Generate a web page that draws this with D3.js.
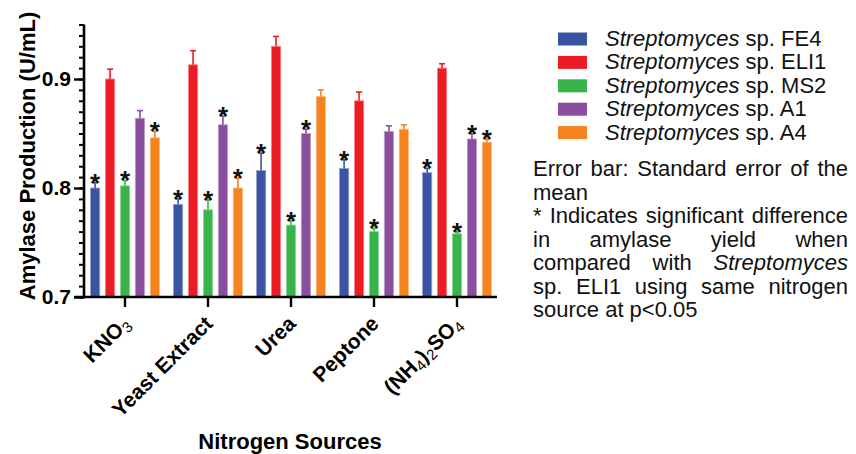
<!DOCTYPE html>
<html>
<head>
<meta charset="utf-8">
<script src="https://cdn.jsdelivr.net/npm/d3@7"></script>
<style>
  body { margin: 0; background: #fff; }
  svg { font-family: 'Liberation Sans', Arial, sans-serif; }
</style>
</head>
<body>
<div id="chart"></div>
<script>
const sources = ['KNO3', 'Yeast Extract', 'Urea', 'Peptone', '(NH4)2SO4'];
// label pieces: [text, isSubscript]
const sourceLabels = [
    [['KNO', 0], ['3', 1]],
    [['Yeast Extract', 0]],
    [['Urea', 0]],
    [['Peptone', 0]],
    [['(NH', 0], ['4', 1], [')', 0], ['2', 1], ['SO', 0], ['4', 1]]
];
const strains = ['FE4', 'ELI1', 'MS2', 'A1', 'A4'];
const strainColors = ['#3a54a4', '#ec1c24', '#38b449', '#894e9d', '#f5841f'];

const fe4Values = [0.800, 0.785, 0.816, 0.818, 0.814];
const eli1Values = [0.900, 0.913, 0.930, 0.880, 0.910];
const ms2Values = [0.802, 0.780, 0.766, 0.760, 0.758];
const a1Values = [0.864, 0.858, 0.850, 0.852, 0.845];
const a4Values = [0.846, 0.800, 0.884, 0.854, 0.842];

const fe4Err = [0.005, 0.005, 0.016, 0.008, 0.004];
const eli1Err = [0.009, 0.013, 0.009, 0.008, 0.004];
const ms2Err = [0.005, 0.009, 0.004, 0.003, 0.002];
const a1Err = [0.007, 0.008, 0.004, 0.005, 0.005];
const a4Err = [0.006, 0.009, 0.006, 0.004, 0.003];

// 1 = marked with * (significant vs ELI1)
const fe4Sig = [1, 1, 1, 1, 1];
const eli1Sig = [0, 0, 0, 0, 0];
const ms2Sig = [1, 1, 1, 1, 1];
const a1Sig = [0, 1, 1, 0, 1];
const a4Sig = [1, 1, 0, 0, 1];

const yMajorTicks = [0.7, 0.8, 0.9];

const allValues = [fe4Values, eli1Values, ms2Values, a1Values, a4Values];
const allErr = [fe4Err, eli1Err, ms2Err, a1Err, a4Err];
const allSig = [fe4Sig, eli1Sig, ms2Sig, a1Sig, a4Sig];

const data = [];
sources.forEach((src, i) => {
    strains.forEach((st, j) => {
        data.push({ source: src, strain: st, value: allValues[j][i], err: allErr[j][i], sig: allSig[j][i], color: strainColors[j] });
    });
});

const W = 856, H = 454;
const svg = d3.select('#chart').append('svg').attr('width', W).attr('height', H);

const y = d3.scaleLinear().domain([0.7, 0.95]).range([297, 24.5]);
const x0 = d3.scaleBand().domain(sources).range([83.5, 498.5]).paddingInner(0.1).paddingOuter(0.05);
const x1 = d3.scaleBand().domain(strains).range([0, x0.bandwidth()]).paddingInner(0.38).paddingOuter(0.19);

// bars
const bars = svg.append('g').selectAll('g.bar')
    .data(data)
    .enter()
    .append('g')
    .attr('transform', d => `translate(${x0(d.source) + x1(d.strain)},0)`);

bars.append('rect')
    .attr('x', 0)
    .attr('y', d => y(d.value))
    .attr('width', x1.bandwidth())
    .attr('height', d => y(0.7) - y(d.value))
    .attr('fill', d => d.color)
    .attr('stroke', d => d3.interpolateRgb(d.color, '#ffffff')(0.45))
    .attr('stroke-width', 0.8);

// error bars (upper only)
const bw = x1.bandwidth();
bars.append('line')
    .attr('x1', bw / 2).attr('x2', bw / 2)
    .attr('y1', d => y(d.value))
    .attr('y2', d => y(d.value + d.err))
    .attr('stroke', d => d.color)
    .attr('stroke-width', 1.6);
bars.append('line')
    .attr('x1', bw / 2 - 3).attr('x2', bw / 2 + 3)
    .attr('y1', d => y(d.value + d.err))
    .attr('y2', d => y(d.value + d.err))
    .attr('stroke', d => d.color)
    .attr('stroke-width', 1.6);

// significance stars
bars.filter(d => d.sig === 1)
    .append('text')
    .attr('x', bw / 2)
    .attr('y', d => y(d.value + d.err) + 9)
    .attr('text-anchor', 'middle')
    .attr('font-size', 26)
    .attr('font-weight', 'bold')
    .attr('fill', '#111')
    .text('*');

// y axis with minor ticks
const minorTicks = d3.range(0, 26).map(i => +(0.7 + i * 0.01).toFixed(2));
svg.append('g')
    .attr('transform', 'translate(84,0)')
    .call(d3.axisLeft(y).tickValues(minorTicks).tickSize(5).tickFormat(''))
    .call(g => g.select('.domain').remove())
    .call(g => g.selectAll('line').attr('stroke', '#000').attr('stroke-width', 2));

const yAxis = svg.append('g')
    .attr('transform', 'translate(84,0)')
    .call(d3.axisLeft(y).tickValues(yMajorTicks).tickSize(10).tickSizeOuter(0).tickFormat(d3.format('.1f')));
yAxis.select('.domain').attr('stroke', '#000').attr('stroke-width', 2.6).attr('d', `M0,${y(0.95)}V${y(0.7) + 1.3}`);
yAxis.selectAll('line').attr('stroke', '#000').attr('stroke-width', 2.4);
yAxis.selectAll('text')
    .attr('x', -13)
    .attr('font-size', 21)
    .attr('font-weight', 'bold')
    .attr('font-family', "'Liberation Sans', Arial, sans-serif")
    .attr('fill', '#000');

// x axis
const xAxis = svg.append('g')
    .attr('transform', `translate(0,${y(0.7)})`)
    .call(d3.axisBottom(x0).tickSize(10).tickSizeOuter(0).tickFormat(''));
xAxis.select('.domain').attr('stroke', '#000').attr('stroke-width', 2.6).attr('d', 'M74,0H497');
xAxis.selectAll('line').attr('stroke', '#000').attr('stroke-width', 2.4);
xAxis.selectAll('.tick').each(function (d, i) {
    const t = d3.select(this).append('text')
        .attr('transform', 'translate(6,28) rotate(-45)')
        .attr('text-anchor', 'end')
        .attr('fill', '#000')
        .attr('font-size', 21)
        .attr('font-weight', 'bold')
        .attr('font-family', "'Liberation Sans', Arial, sans-serif");
    let sub = false;
    sourceLabels[i].forEach(([txt, isSub]) => {
        const ts = t.append('tspan').text(txt);
        if (isSub && !sub) { ts.attr('dy', 4); sub = true; }
        else if (!isSub && sub) { ts.attr('dy', -4); sub = false; }
        if (isSub) ts.attr('font-size', 15).attr('font-weight', 'normal');
    });
});

// axis titles
svg.append('text')
    .attr('transform', 'translate(35,156) rotate(-90)')
    .attr('text-anchor', 'middle')
    .attr('font-size', 22)
    .attr('font-weight', 'bold')
    .text('Amylase Production (U/mL)');

svg.append('text')
    .attr('x', 290)
    .attr('y', 449)
    .attr('text-anchor', 'middle')
    .attr('font-size', 22)
    .attr('font-weight', 'bold')
    .text('Nitrogen Sources');

// legend
const legend = svg.append('g').selectAll('g')
    .data(strains)
    .enter()
    .append('g')
    .attr('transform', (d, i) => `translate(558,${46 + i * 23.4})`);
legend.append('rect')
    .attr('x', 0).attr('y', -13.5)
    .attr('width', 29).attr('height', 13)
    .attr('fill', (d, i) => strainColors[i]);
const lt = legend.append('text')
    .attr('x', 47)
    .attr('y', 0)
    .attr('font-size', 22)
    .attr('fill', '#111');
lt.append('tspan').attr('font-style', 'italic').text('Streptomyces');
lt.append('tspan').text(d => ' sp. ' + d);

// note, justified
const noteLines = [
    { words: [['Error'], ['bar:'], ['Standard'], ['error'], ['of'], ['the']], justify: true },
    { words: [['mean']], justify: false },
    { words: [['*'], ['Indicates'], ['significant'], ['difference']], justify: true },
    { words: [['in'], ['amylase'], ['yield'], ['when']], justify: true },
    { words: [['compared'], ['with'], ['Streptomyces', 'italic']], justify: true },
    { words: [['sp.'], ['ELI1'], ['using'], ['same'], ['nitrogen']], justify: true },
    { words: [['source'], ['at'], ['p<0.05']], justify: false }
];
const noteLeft = 533, noteRight = 848;
const note = svg.append('g').attr('font-size', 22).attr('fill', '#111');
noteLines.forEach((line, li) => {
    const yy = 176 + li * 23.5;
    const nodes = line.words.map(([w, style]) => note.append('text')
        .attr('y', yy)
        .attr('font-style', style === 'italic' ? 'italic' : 'normal')
        .text(w));
    const widths = nodes.map(n => n.node().getComputedTextLength());
    const total = d3.sum(widths);
    const space = 6.1;
    const gap = line.justify && nodes.length > 1 ? (noteRight - noteLeft - total) / (nodes.length - 1) : space;
    let cx = noteLeft;
    nodes.forEach((n, k) => { n.attr('x', cx); cx += widths[k] + gap; });
});
</script>
</body>
</html>
